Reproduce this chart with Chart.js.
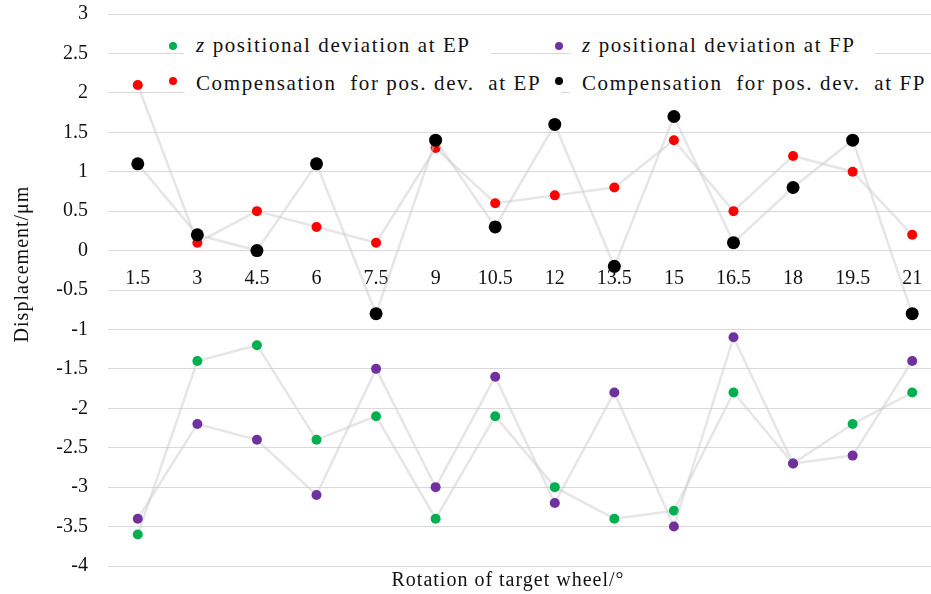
<!DOCTYPE html>
<html>
<head>
<meta charset="utf-8">
<title>Displacement vs rotation</title>
<script src="https://cdn.jsdelivr.net/npm/chart.js@4.4.1/dist/chart.umd.min.js"></script>
<style>
    body { margin: 0; background: #fff; overflow: hidden; }
    #wrap { position: relative; width: 931px; height: 594px; overflow: hidden; }
    #chart { position: absolute; left: 0; top: 0; }
    .legend-dot { position: absolute; width: 8px; height: 8px; border-radius: 50%; }
    .legend-text {
        position: absolute;
        font-family: 'Liberation Serif', 'Times New Roman', serif;
        font-size: 21px;
        line-height: 24px;
        letter-spacing: 1.6px;
        white-space: pre;
        color: #111;
        background: #fff;
        padding: 0 20px 0 12px;
    }
</style>
</head>
<body>
<div id="wrap">
    <canvas id="chart" width="950" height="594"></canvas>
    <div id="legend"></div>
</div>
<script>
// rotation angles of the target wheel (x categories)
const angles = ['1.5', '3', '4.5', '6', '7.5', '9', '10.5', '12', '13.5', '15', '16.5', '18', '19.5', '21'];

// z positional deviation, µm
const epDeviation = [-3.6, -1.4, -1.2, -2.4, -2.1, -3.4, -2.1, -3.0, -3.4, -3.3, -1.8, -2.7, -2.2, -1.8];
const fpDeviation = [-3.4, -2.2, -2.4, -3.1, -1.5, -3.0, -1.6, -3.2, -1.8, -3.5, -1.1, -2.7, -2.6, -1.4];

// compensation for positional deviation, µm
const epCompensation = [2.1, 0.1, 0.5, 0.3, 0.1, 1.3, 0.6, 0.7, 0.8, 1.4, 0.5, 1.2, 1.0, 0.2];
const fpCompensation = [1.1, 0.2, 0.0, 1.1, -0.8, 1.4, 0.3, 1.6, -0.2, 1.7, 0.1, 0.8, 1.4, -0.8];

const seriesNames = [
    'z positional deviation at EP',
    'z positional deviation at FP',
    'Compensation  for pos. dev.  at EP',
    'Compensation  for pos. dev.  at FP'
];
const seriesColors = ['#00b050', '#7030a0', '#ff0000', '#000000'];

const xTitle = 'Rotation of target wheel/°';
const yTitle = 'Displacement/μm';

const yMin = -4;
const yMax = 3;
const yStep = 0.5;

const serif = "'Liberation Serif', 'Times New Roman', serif";
const lineColor = 'rgba(205, 205, 205, 0.5)';

function makeDataset(i, values, radius) {
    return {
        label: seriesNames[i],
        data: values,
        borderColor: lineColor,
        borderWidth: 2.5,
        pointBackgroundColor: seriesColors[i],
        pointBorderWidth: 0,
        pointRadius: radius,
        pointHoverRadius: radius,
        tension: 0,
        fill: false,
        order: 4 - i // later series drawn on top
    };
}

// axis titles drawn by hand so they sit where the original has them
const axisTitles = {
    id: 'axisTitles',
    afterDraw(chart) {
        const { ctx, chartArea } = chart;
        ctx.save();
        ctx.font = '20px ' + serif;
        ctx.fillStyle = '#111';
        ctx.textAlign = 'center';
        ctx.textBaseline = 'middle';
        if ('letterSpacing' in ctx) ctx.letterSpacing = '1px';
        ctx.fillText(xTitle, chartArea.left + 400, chartArea.bottom + 15);
        ctx.translate(23, chartArea.top + 250);
        ctx.rotate(-Math.PI / 2);
        ctx.fillText(yTitle, 0, 0);
        ctx.restore();
    }
};

const ctx = document.getElementById('chart').getContext('2d');
const chart = new Chart(ctx, {
    type: 'line',
    data: {
        labels: angles,
        datasets: [
            makeDataset(0, epDeviation, 5),
            makeDataset(1, fpDeviation, 5),
            makeDataset(2, epCompensation, 5),
            makeDataset(3, fpCompensation, 6.5)
        ]
    },
    options: {
        responsive: false,
        animation: false,
        layout: { padding: { left: 0, top: 14, right: 8, bottom: 28 } },
        plugins: {
            legend: { display: false },
            tooltip: { enabled: false }
        },
        scales: {
            x: {
                type: 'category',
                offset: true,
                position: { y: 0 },
                afterFit(scale) { scale.height = 0; }, // sits on y = 0, takes no room
                grid: { display: false, drawTicks: false },
                border: { display: false },
                ticks: {
                    color: '#111',
                    padding: 16,
                    maxRotation: 0,
                    autoSkip: false,
                    font: { family: serif, size: 20 }
                }
            },
            y: {
                min: yMin,
                max: yMax,
                afterFit(scale) {
                    scale.width = 108;
                    // tick padding would otherwise eat into the plot height
                    scale.paddingTop = 0;
                    scale.paddingBottom = 0;
                },
                grid: { color: '#d9d9d9', lineWidth: 1, drawTicks: false },
                border: { display: false },
                ticks: {
                    stepSize: yStep,
                    color: '#111',
                    padding: 20,
                    font: { family: serif, size: 20 },
                    callback: (value) => String(value)
                }
            }
        }
    },
    plugins: [axisTitles]
});

// legend: 2 x 2 grid inside the plot, like the original
const legendCols = [173, 559];
const legendDotRows = [46, 81];
const legendTextRows = [33, 71];

function buildLegend() {
    const legend = document.getElementById('legend');
    legend.innerHTML = '';
    chart.data.datasets.forEach((ds, i) => {
        const col = i % 2;
        const row = Math.floor(i / 2);

        const dot = document.createElement('div');
        dot.className = 'legend-dot';
        dot.style.left = (legendCols[col] - 4) + 'px';
        dot.style.top = (legendDotRows[row] - 4) + 'px';
        dot.style.background = ds.pointBackgroundColor;

        const text = document.createElement('div');
        text.className = 'legend-text';
        text.style.left = (legendCols[col] + 11) + 'px';
        text.style.top = legendTextRows[row] + 'px';
        if (ds.label.startsWith('z ')) {
            const z = document.createElement('i');
            z.textContent = 'z';
            text.appendChild(z);
            text.appendChild(document.createTextNode(ds.label.slice(1)));
        } else {
            text.textContent = ds.label;
        }

        legend.appendChild(text);
        legend.appendChild(dot);
    });
}
buildLegend();
</script>
</body>
</html>
